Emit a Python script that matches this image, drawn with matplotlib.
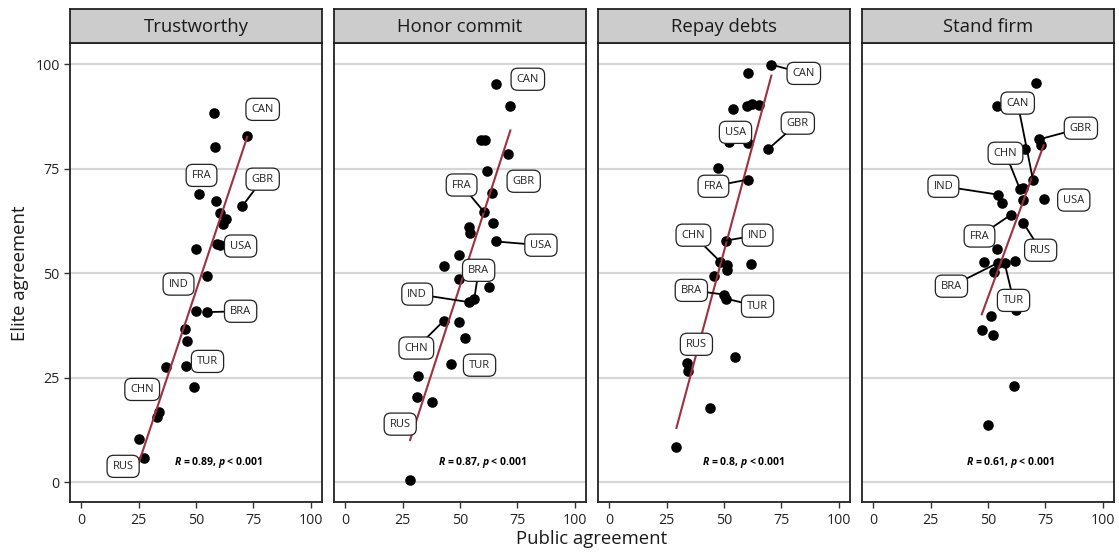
import numpy as np
import matplotlib
matplotlib.use("Agg")
import matplotlib.pyplot as plt

plt.rcParams["font.family"] = ["Open Sans", "DejaVu Sans"]
plt.rcParams["mathtext.fontset"] = "custom"
plt.rcParams["mathtext.it"] = "Open Sans:italic:bold"
plt.rcParams["mathtext.rm"] = "Open Sans:bold"

# ==================================================
# DATA
# ==================================================

facets = ["Trustworthy", "Honor commit", "Repay debts", "Stand firm"]
r_labels = ["0.89", "0.87", "0.8", "0.61"]
p_labels = ["0.001", "0.001", "0.001", "0.001"]

trust_public = [57.8, 72.3, 58.1, 51.5, 58.8, 70.2, 60.6, 63.0, 61.9, 50.1, 59.2, 60.3,
                54.6, 49.8, 55.0, 45.3, 46.0, 37.1, 45.5, 49.0, 33.8, 33.0, 25.2, 27.2]
trust_elite = [88.4, 82.8, 80.1, 68.9, 67.2, 66.1, 64.4, 62.9, 61.8, 55.9, 56.9, 56.7,
               49.4, 40.9, 40.7, 36.6, 33.7, 27.5, 27.9, 22.7, 16.8, 15.6, 10.4, 5.9]
trust_codes = ["", "CAN", "", "FRA", "", "GBR", "", "", "", "", "USA", "",
               "IND", "", "BRA", "", "", "", "TUR", "", "CHN", "", "", "RUS"]

honor_public = [65.8, 71.9, 59.2, 61.0, 71.0, 61.7, 63.9, 60.4, 64.3, 53.9, 54.4, 65.5, 49.5,
                42.9, 49.5, 62.4, 56.2, 53.7, 42.9, 49.5, 52.1, 46.3, 31.9, 31.4, 38.0, 28.3]
honor_elite = [95.2, 89.9, 81.8, 81.8, 78.5, 74.5, 69.3, 64.7, 62.1, 61.1, 59.7, 57.6, 54.4,
               51.7, 48.6, 46.6, 43.8, 43.1, 38.6, 38.4, 34.4, 28.3, 25.4, 20.3, 19.3, 0.5]
honor_codes = ["CAN", "", "", "", "GBR", "", "", "FRA", "", "", "", "USA", "",
               "", "", "", "BRA", "IND", "CHN", "", "", "TUR", "", "RUS", "", ""]

repay_public = [70.6, 60.3, 54.0, 59.8, 62.0, 65.2, 52.1, 60.6, 69.0, 47.2, 60.3, 50.7,
                48.3, 51.2, 61.7, 51.5, 45.5, 50.1, 51.0, 54.6, 33.9, 34.4, 43.7, 29.3]
repay_elite = [99.9, 97.8, 89.2, 90.0, 90.4, 90.2, 81.3, 81.2, 79.6, 75.1, 72.4, 57.8,
               52.8, 51.9, 52.3, 50.7, 49.4, 44.9, 43.9, 30.0, 28.5, 26.5, 17.7, 8.5]
repay_codes = ["CAN", "", "", "", "", "", "USA", "", "GBR", "", "FRA", "IND",
               "CHN", "", "", "", "", "BRA", "TUR", "", "RUS", "", "", ""]

firm_public = [70.7, 54.0, 72.1, 72.9, 66.2, 69.6, 63.9, 65.2, 54.4, 56.2, 65.1, 74.2, 60.0,
               65.4, 53.8, 48.2, 54.4, 57.2, 61.7, 52.5, 62.3, 51.2, 47.3, 52.0, 61.2, 50.1]
firm_elite = [95.4, 90.0, 82.0, 80.6, 79.8, 72.2, 70.1, 70.5, 68.8, 66.7, 67.6, 67.8, 64.0,
              62.0, 55.7, 52.7, 52.5, 52.5, 52.9, 50.2, 41.3, 39.8, 36.3, 35.3, 23.0, 13.6]
firm_codes = ["", "", "GBR", "", "", "CAN", "CHN", "", "IND", "", "", "USA", "FRA",
              "RUS", "", "", "BRA", "TUR", "", "", "", "", "", "", "", ""]

publics = [trust_public, honor_public, repay_public, firm_public]
elites = [trust_elite, honor_elite, repay_elite, firm_elite]
codes = [trust_codes, honor_codes, repay_codes, firm_codes]

# label placement (data coords) and whether a leader segment is drawn
label_pos = [
    {"CAN": (79.0, 89.2, False), "FRA": (52.4, 73.4, False), "GBR": (79.0, 72.5, True),
     "USA": (69.4, 56.5, False), "IND": (42.4, 47.4, False), "BRA": (69.4, 40.9, True),
     "TUR": (55.0, 28.9, False), "CHN": (26.6, 22.2, False), "RUS": (18.3, 3.8, False)},
    {"CAN": (79.5, 96.4, False), "FRA": (50.7, 71.1, True), "GBR": (77.7, 72.0, False),
     "USA": (85.2, 56.7, True), "BRA": (58.1, 50.7, True), "IND": (31.4, 45.0, True),
     "CHN": (31.0, 32.1, True), "TUR": (58.5, 28.0, False), "RUS": (24.0, 13.9, False)},
    {"CAN": (84.7, 97.8, True), "GBR": (82.1, 85.9, True), "USA": (55.0, 83.7, False),
     "FRA": (45.4, 70.8, True), "CHN": (36.7, 59.1, True), "IND": (64.6, 59.1, True),
     "BRA": (35.8, 45.9, True), "TUR": (64.6, 42.1, True), "RUS": (38.0, 33.0, False)},
    {"CAN": (62.9, 90.7, True), "GBR": (90.4, 84.7, True), "CHN": (57.6, 78.7, True),
     "IND": (30.6, 70.8, True), "USA": (87.3, 67.5, False), "FRA": (46.3, 58.9, True),
     "RUS": (72.9, 55.5, True), "BRA": (34.1, 46.9, True), "TUR": (61.1, 43.5, True)},
]

# ==================================================
# LAYOUT
# ==================================================

W, H = 1119, 552
fig = plt.figure(figsize=(W / 100, H / 100), dpi=100)

panel_left = [70, 334, 598, 862]
panel_w = 252
panel_top = 43.3
panel_bottom = 502.3
strip_top = 9.0

line_red = "#A0303E"
edge = "#222222"

for i, name in enumerate(facets):
    x0 = panel_left[i] / W
    ax = fig.add_axes([x0, 1 - panel_bottom / H, panel_w / W, (panel_bottom - panel_top) / H])
    strip = fig.add_axes([x0, 1 - panel_top / H, panel_w / W, (panel_top - strip_top) / H])

    # strip header
    strip.set_facecolor("#CCCCCC")
    strip.set_xticks([])
    strip.set_yticks([])
    for s in strip.spines.values():
        s.set_color(edge)
        s.set_linewidth(1.3)
    strip.text(0.5, 0.47, name, ha="center", va="center", fontsize=13.3,
               color="#1a1a1a", transform=strip.transAxes)

    px = np.array(publics[i])
    ey = np.array(elites[i])

    ax.set_xlim(-4.8, 104.8)
    ax.set_ylim(-4.8, 105)
    ax.set_yticks([0, 25, 50, 75, 100])
    ax.set_xticks([0, 25, 50, 75, 100])
    ax.grid(axis="y", color="#D6D6D6", linewidth=1.6, zorder=0)
    ax.set_axisbelow(True)
    for s in ax.spines.values():
        s.set_color(edge)
        s.set_linewidth(1.3)
    ax.tick_params(axis="both", length=4, width=1.0, color="#333333",
                   labelsize=10.2, labelcolor="#222222")
    if i > 0:
        ax.tick_params(axis="y", left=False, labelleft=False)

    # points
    ax.scatter(px, ey, s=58, color="black", zorder=3, linewidths=0)

    # linear fit over the data range
    slope, icpt = np.polyfit(px, ey, 1)
    xs = np.array([px.min(), px.max()])
    ax.plot(xs, icpt + slope * xs, color=line_red, linewidth=1.5, zorder=4)

    # country labels
    for cx, cy, cc in zip(px, ey, codes[i]):
        if not cc:
            continue
        lx, ly, seg = label_pos[i][cc]
        if seg:
            ax.plot([cx, lx], [cy, ly], color="black", linewidth=1.3, zorder=5)
        ax.text(lx, ly, cc, ha="center", va="center", fontsize=8, color="#222222",
                zorder=6,
                bbox=dict(boxstyle="round,pad=0.5,rounding_size=0.6",
                          facecolor="white", edgecolor="#222222", linewidth=0.9))

    # correlation annotation
    ax.text(40.6, 4.8, r"$R$ = " + r_labels[i] + r", $p$ < " + p_labels[i],
            ha="left", va="center", fontsize=7.5, fontweight="bold", color="black",
            zorder=6)

fig.text(592 / W, 1 - 539 / H, "Public agreement", ha="center", va="center",
         fontsize=13.3, color="#1a1a1a")
fig.text(20 / W, 1 - 273 / H, "Elite agreement", ha="center", va="center",
         rotation=90, fontsize=13.3, color="#1a1a1a")

fig.savefig("out.png", dpi=100, facecolor="white")
